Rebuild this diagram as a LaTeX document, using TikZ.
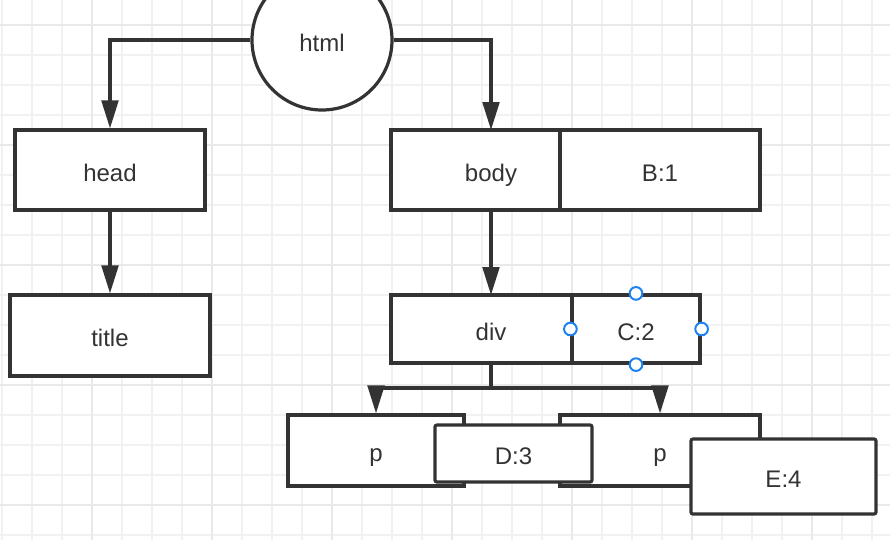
\documentclass[tikz,border=0pt]{standalone}
\usepackage{fontspec}
\setmainfont{Liberation Sans}
\usetikzlibrary{arrows.meta}
\definecolor{ink}{HTML}{333333}
\definecolor{gridminor}{HTML}{F1F1F1}
\definecolor{gridmajor}{HTML}{E9E9E9}
\definecolor{handle}{HTML}{1E82F0}
\tikzset{
  txt/.style={text=ink, inner sep=0pt,
    font=\fontsize{18}{21}\selectfont, text height=17pt, text depth=0pt},
  box/.style={draw=ink, line width=2.4pt, fill=white, txt},
  arr/.style={draw=ink, line width=2.4pt, -{Triangle[length=21pt,width=12.5pt]}},
  conn/.style={draw=ink, line width=2.4pt},
  hdl/.style={circle, draw=handle, line width=1.5pt, fill=white, minimum size=9.5pt, inner sep=0pt},
}
\begin{document}
\begin{tikzpicture}[x=0.75pt,y=-0.75pt]
\useasboundingbox (0,0) rectangle (890,540);
\fill[white] (0,0) rectangle (890,540);
% grid
\foreach \x in {2,32,...,872} \draw[gridminor, line width=0.8pt] (\x,0) -- (\x,540);
\foreach \y in {25,55,...,535} \draw[gridminor, line width=0.8pt] (0,\y) -- (890,\y);
\foreach \x in {92,212,...,812} \draw[gridmajor, line width=1.2pt] (\x,0) -- (\x,540);
\foreach \y in {25,145,...,505} \draw[gridmajor, line width=1.2pt] (0,\y) -- (890,\y);

% nodes
\node[box, circle, minimum size=105pt] (html) at (322,40) {html};
\node[box, minimum width=142.5pt, minimum height=60pt] (head) at (110,170) {head};
\node[box, minimum width=150pt, minimum height=60.75pt] (title) at (110,335.5) {title};
\node[box, minimum width=126.75pt, minimum height=60pt] (body) at (475.5,170) {};
\node[txt] (bodyt) at (491,170) {body};
\node[box, minimum width=150pt, minimum height=60pt] (b1) at (660,170) {B:1};
\node[box, minimum width=135.75pt, minimum height=51pt] (div) at (481.5,329) {};
\node[txt] (divt) at (491,329) {div};
\node[box, minimum width=96pt, minimum height=51pt] (c2) at (636,329) {C:2};
\node[box, minimum width=132pt, minimum height=53.25pt] (p1) at (376,450.5) {p};
\node[box, minimum width=150pt, minimum height=53.25pt] (p2) at (660,450.5) {p};
\node[box, rounded corners=1.5pt, minimum width=117.75pt, minimum height=42.75pt] (d3) at (513.5,453.5) {D:3};
\node[box, rounded corners=1.5pt, minimum width=138.75pt, minimum height=56.25pt] (e4) at (783.5,476.5) {E:4};

% handles
\node[hdl] (h1) at (c2.north) {};
\node[hdl] (h2) at (c2.south) {};
\node[hdl] (h3) at (c2.west) {};
\node[hdl] (h4) at (c2.east) {};

% connectors
\draw[arr] (html.west) -| (head.north);
\coordinate (bn) at (491,130);
\draw[arr] (html.east) -| (bn);
\draw[arr] (head.south) -- (title.north);
\coordinate (bs) at (491,210);
\coordinate (dn) at (491,295);
\draw[arr] (bs) -- (dn);
\coordinate (ds) at (491,363);
\coordinate (j) at (491,388);
\draw[conn] (ds) -- (j);
\draw[arr] (j) -| (p1.north);
\draw[arr] (j) -| (p2.north);
\end{tikzpicture}
\end{document}
